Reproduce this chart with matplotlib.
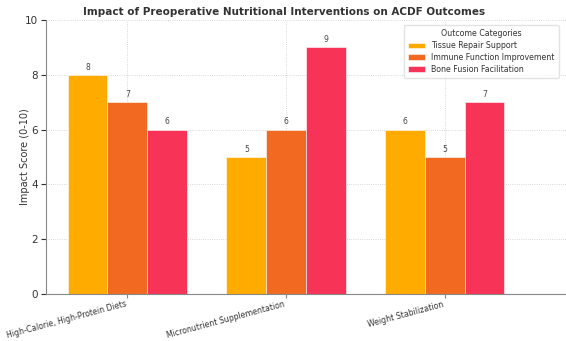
import numpy as np
import matplotlib
matplotlib.use('Agg')
import matplotlib.pyplot as plt

interventions = ["High-Calorie, High-Protein Diets",
                 "Micronutrient Supplementation",
                 "Weight Stabilization"]
outcomes = ["Tissue Repair Support",
            "Immune Function Improvement",
            "Bone Fusion Facilitation"]
tissue_repair = [8, 5, 6]
immune_function = [7, 6, 5]
bone_fusion = [6, 9, 7]

colors = ['#ffab00', '#f26a22', '#f73457']

fig = plt.figure(figsize=(5.66, 3.41), dpi=100)
# axes run off the right edge of the canvas
ax = fig.add_axes([0.0807, 0.1378, 0.98, 0.8035])

x = np.arange(len(interventions))
width = 0.25
for i, (vals, c, name) in enumerate(zip([tissue_repair, immune_function, bone_fusion],
                                        colors, outcomes)):
    bars = ax.bar(x + (i - 1) * width, vals, width, color=c, label=name,
                  edgecolor='#ffffff', linewidth=0.4)
    for b, v in zip(bars, vals):
        ax.text(b.get_x() + b.get_width() / 2, v + 0.12, f"{v}",
                ha='center', va='bottom', fontsize=5.5, color='#444444')

ax.set_xlim(-0.514, 2.98)
ax.set_ylim(0, 10)
ax.set_xticks(x)
ax.set_xticklabels(interventions, rotation=15, ha='right', fontsize=5.6,
                   color='#333333')
ax.tick_params(axis='y', labelsize=7.5, colors='#333333', pad=2)
ax.tick_params(axis='x', length=3, color='#888888', pad=1)
ax.set_ylabel("Impact Score (0-10)", fontsize=7, color='#333333')
ax.yaxis.set_label_coords(-0.028, 0.5)

ax.grid(True, linestyle=':', linewidth=0.6, color='#cccccc')
ax.set_axisbelow(True)
for s in ['top', 'right']:
    ax.spines[s].set_visible(False)
for s in ['left', 'bottom']:
    ax.spines[s].set_color('#888888')

fig.text(0.5025, 0.956, "Impact of Preoperative Nutritional Interventions on ACDF Outcomes",
         ha='center', va='baseline', fontsize=7.5, fontweight='bold', color='#333333')

leg = fig.legend(title="Outcome Categories", loc='upper right',
                 bbox_to_anchor=(0.994, 0.937), fontsize=5.7, title_fontsize=5.7,
                 frameon=True, handlelength=2.2, borderpad=0.5, labelspacing=0.35)
leg.get_frame().set_edgecolor('#dddddd')
for t in leg.get_texts():
    t.set_color('#333333')
leg.get_title().set_color('#333333')

fig.savefig('out.png', dpi=100)
